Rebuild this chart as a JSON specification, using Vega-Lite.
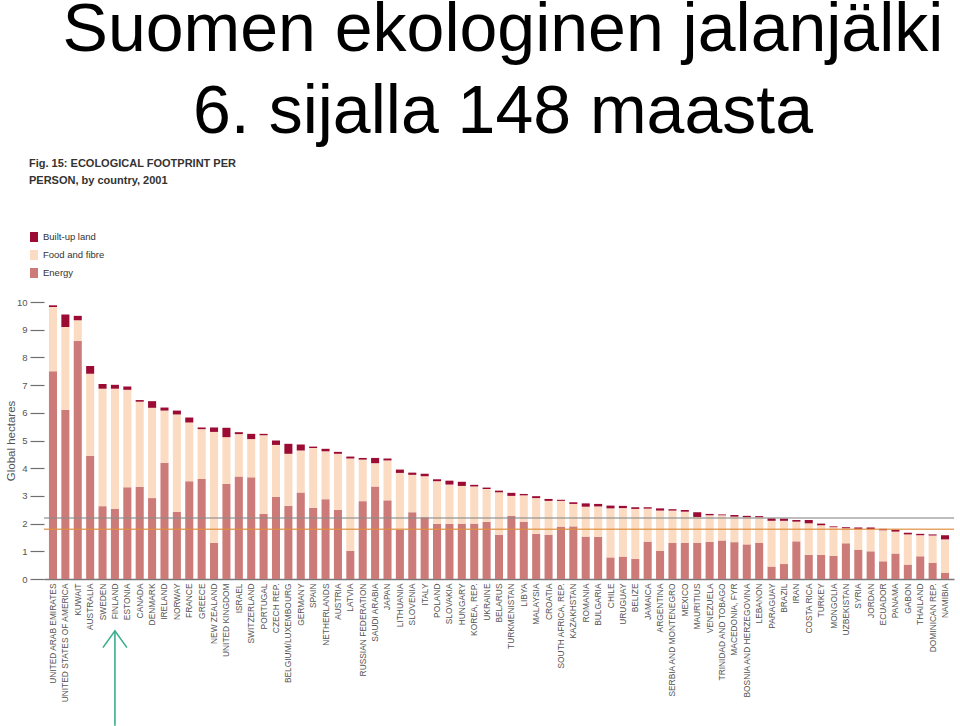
{
  "$schema": "https://vega.github.io/schema/vega-lite/v6.json",
  "width": 910,
  "height": 277,
  "autosize": {"type": "none"},
  "padding": {"left": 44, "top": 302, "right": 6, "bottom": 147},
  "background": "white",
  "config": {
    "view": {"stroke": null},
    "font": "Liberation Sans",
    "axisY": {"tickCount": 11, "labelOverlap": false, "tickSize": 14, "tickColor": "#6f6f6f", "tickWidth": 1.2, "labelPadding": 3, "domain": false, "grid": false, "labelFont": "Liberation Sans", "labelFontSize": 9.5, "labelColor": "#555", "titleFont": "Liberation Sans", "titleFontWeight": "normal", "titleFontSize": 11.5, "titleColor": "#555", "titlePadding": 0},
    "axisX": {"title": null, "labelAngle": -90, "labelFontSize": 8.4, "labelColor": "#555", "ticks": false, "labelPadding": 4, "domainColor": "#777", "domainWidth": 1.5, "labelOverlap": false, "grid": false}
  },
  "title": {"text": ["Suomen ekologinen jalanjälki", "6. sijalla 148 maasta"], "fontSize": 68, "fontWeight": "normal", "font": "Liberation Sans", "color": "#000", "lineHeight": 82, "anchor": "middle", "frame": "group", "offset": 11, "dx": 4},
  "datasets": {
    "fp": [
      {"country": "UNITED ARAB EMIRATES", "energy": 7.5, "foodTop": 9.82, "total": 9.88},
      {"country": "UNITED STATES OF AMERICA", "energy": 6.1, "foodTop": 9.1, "total": 9.55},
      {"country": "KUWAIT", "energy": 8.59, "foodTop": 9.34, "total": 9.5},
      {"country": "AUSTRALIA", "energy": 4.45, "foodTop": 7.41, "total": 7.69},
      {"country": "SWEDEN", "energy": 2.63, "foodTop": 6.87, "total": 7.04},
      {"country": "FINLAND", "energy": 2.54, "foodTop": 6.87, "total": 7.01},
      {"country": "ESTONIA", "energy": 3.31, "foodTop": 6.83, "total": 6.95},
      {"country": "CANADA", "energy": 3.33, "foodTop": 6.4, "total": 6.46},
      {"country": "DENMARK", "energy": 2.92, "foodTop": 6.18, "total": 6.42},
      {"country": "IRELAND", "energy": 4.2, "foodTop": 6.08, "total": 6.19},
      {"country": "NORWAY", "energy": 2.42, "foodTop": 5.94, "total": 6.08},
      {"country": "FRANCE", "energy": 3.53, "foodTop": 5.65, "total": 5.83},
      {"country": "GREECE", "energy": 3.61, "foodTop": 5.41, "total": 5.47},
      {"country": "NEW ZEALAND", "energy": 1.31, "foodTop": 5.31, "total": 5.47},
      {"country": "UNITED KINGDOM", "energy": 3.43, "foodTop": 5.12, "total": 5.46},
      {"country": "ISRAEL", "energy": 3.7, "foodTop": 5.23, "total": 5.3},
      {"country": "SWITZERLAND", "energy": 3.67, "foodTop": 5.05, "total": 5.24},
      {"country": "PORTUGAL", "energy": 2.35, "foodTop": 5.19, "total": 5.24},
      {"country": "CZECH REP.", "energy": 2.96, "foodTop": 4.84, "total": 5.0},
      {"country": "BELGIUM/LUXEMBOURG", "energy": 2.64, "foodTop": 4.52, "total": 4.88},
      {"country": "GERMANY", "energy": 3.12, "foodTop": 4.64, "total": 4.86},
      {"country": "SPAIN", "energy": 2.57, "foodTop": 4.73, "total": 4.78},
      {"country": "NETHERLANDS", "energy": 2.88, "foodTop": 4.61, "total": 4.7},
      {"country": "AUSTRIA", "energy": 2.49, "foodTop": 4.52, "total": 4.59},
      {"country": "LATVIA", "energy": 1.02, "foodTop": 4.35, "total": 4.42},
      {"country": "RUSSIAN FEDERATION", "energy": 2.81, "foodTop": 4.31, "total": 4.37},
      {"country": "SAUDI ARABIA", "energy": 3.34, "foodTop": 4.18, "total": 4.37},
      {"country": "JAPAN", "energy": 2.84, "foodTop": 4.28, "total": 4.35},
      {"country": "LITHUANIA", "energy": 1.77, "foodTop": 3.83, "total": 3.95},
      {"country": "SLOVENIA", "energy": 2.41, "foodTop": 3.76, "total": 3.84},
      {"country": "ITALY", "energy": 2.23, "foodTop": 3.71, "total": 3.8},
      {"country": "POLAND", "energy": 1.99, "foodTop": 3.53, "total": 3.6},
      {"country": "SLOVAKIA", "energy": 1.99, "foodTop": 3.41, "total": 3.55},
      {"country": "HUNGARY", "energy": 2.0, "foodTop": 3.36, "total": 3.51},
      {"country": "KOREA, REP.", "energy": 2.0, "foodTop": 3.34, "total": 3.4},
      {"country": "UKRAINE", "energy": 2.06, "foodTop": 3.25, "total": 3.3},
      {"country": "BELARUS", "energy": 1.6, "foodTop": 3.13, "total": 3.19},
      {"country": "TURKMENISTAN", "energy": 2.28, "foodTop": 3.0, "total": 3.11},
      {"country": "LIBYA", "energy": 2.07, "foodTop": 3.02, "total": 3.07},
      {"country": "MALAYSIA", "energy": 1.63, "foodTop": 2.92, "total": 2.99},
      {"country": "CROATIA", "energy": 1.6, "foodTop": 2.82, "total": 2.89},
      {"country": "SOUTH AFRICA, REP.", "energy": 1.89, "foodTop": 2.82, "total": 2.86},
      {"country": "KAZAKHSTAN", "energy": 1.9, "foodTop": 2.71, "total": 2.77},
      {"country": "ROMANIA", "energy": 1.53, "foodTop": 2.61, "total": 2.73},
      {"country": "BULGARIA", "energy": 1.52, "foodTop": 2.62, "total": 2.71},
      {"country": "CHILE", "energy": 0.78, "foodTop": 2.55, "total": 2.65},
      {"country": "URUGUAY", "energy": 0.81, "foodTop": 2.56, "total": 2.64},
      {"country": "BELIZE", "energy": 0.73, "foodTop": 2.53, "total": 2.59},
      {"country": "JAMAICA", "energy": 1.35, "foodTop": 2.54, "total": 2.59},
      {"country": "ARGENTINA", "energy": 1.01, "foodTop": 2.47, "total": 2.55},
      {"country": "SERBIA AND MONTENEGRO", "energy": 1.3, "foodTop": 2.47, "total": 2.52},
      {"country": "MEXICO", "energy": 1.31, "foodTop": 2.43, "total": 2.49},
      {"country": "MAURITIUS", "energy": 1.31, "foodTop": 2.24, "total": 2.41},
      {"country": "VENEZUELA", "energy": 1.34, "foodTop": 2.3, "total": 2.35},
      {"country": "TRINIDAD AND TOBAGO", "energy": 1.39, "foodTop": 2.3, "total": 2.33},
      {"country": "MACEDONIA, FYR", "energy": 1.33, "foodTop": 2.25, "total": 2.31},
      {"country": "BOSNIA AND HERZEGOVINA", "energy": 1.25, "foodTop": 2.23, "total": 2.28},
      {"country": "LEBANON", "energy": 1.3, "foodTop": 2.23, "total": 2.27},
      {"country": "PARAGUAY", "energy": 0.45, "foodTop": 2.1, "total": 2.19},
      {"country": "BRAZIL", "energy": 0.54, "foodTop": 2.1, "total": 2.18},
      {"country": "IRAN", "energy": 1.36, "foodTop": 2.07, "total": 2.13},
      {"country": "COSTA RICA", "energy": 0.87, "foodTop": 2.01, "total": 2.13},
      {"country": "TURKEY", "energy": 0.87, "foodTop": 1.94, "total": 2.0},
      {"country": "MONGOLIA", "energy": 0.84, "foodTop": 1.87, "total": 1.9},
      {"country": "UZBEKISTAN", "energy": 1.29, "foodTop": 1.83, "total": 1.87},
      {"country": "SYRIA", "energy": 1.06, "foodTop": 1.81, "total": 1.86},
      {"country": "JORDAN", "energy": 1.0, "foodTop": 1.8, "total": 1.86},
      {"country": "ECUADOR", "energy": 0.64, "foodTop": 1.76, "total": 1.81},
      {"country": "PANAMA", "energy": 0.92, "foodTop": 1.71, "total": 1.78},
      {"country": "GABON", "energy": 0.52, "foodTop": 1.61, "total": 1.67},
      {"country": "THAILAND", "energy": 0.82, "foodTop": 1.58, "total": 1.63},
      {"country": "DOMINICAN REP.", "energy": 0.59, "foodTop": 1.57, "total": 1.61},
      {"country": "NAMIBIA", "energy": 0.23, "foodTop": 1.43, "total": 1.58}
    ],
    "lines": [
      {"line": "World average footprint", "gha": 2.2},
      {"line": "World biocapacity", "gha": 1.8}
    ]
  },
  "data": {"name": "fp"},
  "encoding": {
    "x": {"field": "country", "type": "nominal", "sort": null, "scale": {"paddingInner": 0.35, "paddingOuter": 0.4}}
  },
  "layer": [
    {
      "mark": {"type": "bar"},
      "encoding": {
        "y": {"field": "energy", "type": "quantitative", "title": "Global hectares", "scale": {"domain": [0, 10], "nice": false},
          "axis": {"values": [0, 1, 2, 3, 4, 5, 6, 7, 8, 9, 10], "labelOverlap": false, "tickCount": 11}},
        "color": {"datum": "Energy", "type": "nominal",
          "scale": {"domain": ["Built-up land", "Food and fibre", "Energy"], "range": ["#9b0b34", "#fbdcc3", "#cc7b79"]},
          "legend": {"orient": "none", "legendX": -15, "legendY": -144, "padding": 0,
            "title": ["Fig. 15: ECOLOGICAL FOOTPRINT PER", "PERSON, by country, 2001"],
            "titleFont": "Liberation Sans", "titleFontSize": 11, "titleFontWeight": "bold", "titleColor": "#333", "titleLineHeight": 17, "titlePadding": 46, "titleLimit": 400,
            "symbolType": "M-0.8,-1H0.8V1H-0.8Z", "symbolSize": 100, "symbolStrokeWidth": 0,
            "labelFont": "Liberation Sans", "labelFontSize": 9.5, "labelColor": "#333", "labelOffset": 4, "rowPadding": 8}}
      }
    },
    {
      "mark": {"type": "bar"},
      "encoding": {
        "y": {"field": "energy", "type": "quantitative", "title": "Global hectares", "scale": {"domain": [0, 10], "nice": false},
          "axis": {"values": [0, 1, 2, 3, 4, 5, 6, 7, 8, 9, 10], "labelOverlap": false, "tickCount": 11}},
        "y2": {"field": "foodTop"},
        "color": {"datum": "Food and fibre", "type": "nominal"}
      }
    },
    {
      "mark": {"type": "bar"},
      "encoding": {
        "y": {"field": "foodTop", "type": "quantitative", "title": "Global hectares", "scale": {"domain": [0, 10], "nice": false},
          "axis": {"values": [0, 1, 2, 3, 4, 5, 6, 7, 8, 9, 10], "labelOverlap": false, "tickCount": 11}},
        "y2": {"field": "total"},
        "color": {"datum": "Built-up land", "type": "nominal"}
      }
    },
    {
      "data": {"name": "lines"},
      "transform": [{"filter": "datum.gha == 2.2"}],
      "mark": {"type": "rule", "color": "#8a8a8a", "strokeWidth": 1.5, "opacity": 0.75},
      "encoding": {
        "x": null,
        "y": {"field": "gha", "type": "quantitative", "title": "Global hectares", "scale": {"domain": [0, 10], "nice": false},
          "axis": {"values": [0, 1, 2, 3, 4, 5, 6, 7, 8, 9, 10], "labelOverlap": false, "tickCount": 11}}
      }
    },
    {
      "data": {"name": "lines"},
      "transform": [{"filter": "datum.gha == 1.8"}],
      "mark": {"type": "rule", "color": "#df8f3e", "strokeWidth": 1.5, "opacity": 0.8},
      "encoding": {
        "x": null,
        "y": {"field": "gha", "type": "quantitative", "title": "Global hectares", "scale": {"domain": [0, 10], "nice": false},
          "axis": {"values": [0, 1, 2, 3, 4, 5, 6, 7, 8, 9, 10], "labelOverlap": false, "tickCount": 11}}
      }
    },
    {
      "transform": [{"filter": "datum.country == 'FINLAND'"}],
      "mark": {"type": "rule", "color": "#3aae8a", "strokeWidth": 1.6},
      "encoding": {
        "y": {"datum": -1.87, "type": "quantitative", "title": "Global hectares", "scale": {"domain": [0, 10], "nice": false},
          "axis": {"values": [0, 1, 2, 3, 4, 5, 6, 7, 8, 9, 10], "labelOverlap": false, "tickCount": 11}},
        "y2": {"datum": -5.3}
      }
    },
    {
      "transform": [{"filter": "datum.country == 'FINLAND'"}],
      "mark": {"type": "point", "shape": "M-1,1.4L0,0L1,1.4", "filled": false, "color": "#3aae8a", "strokeWidth": 1.6, "size": 576, "opacity": 1},
      "encoding": {
        "y": {"datum": -1.87, "type": "quantitative", "title": "Global hectares", "scale": {"domain": [0, 10], "nice": false},
          "axis": {"values": [0, 1, 2, 3, 4, 5, 6, 7, 8, 9, 10], "labelOverlap": false, "tickCount": 11}}
      }
    }
  ]
}
